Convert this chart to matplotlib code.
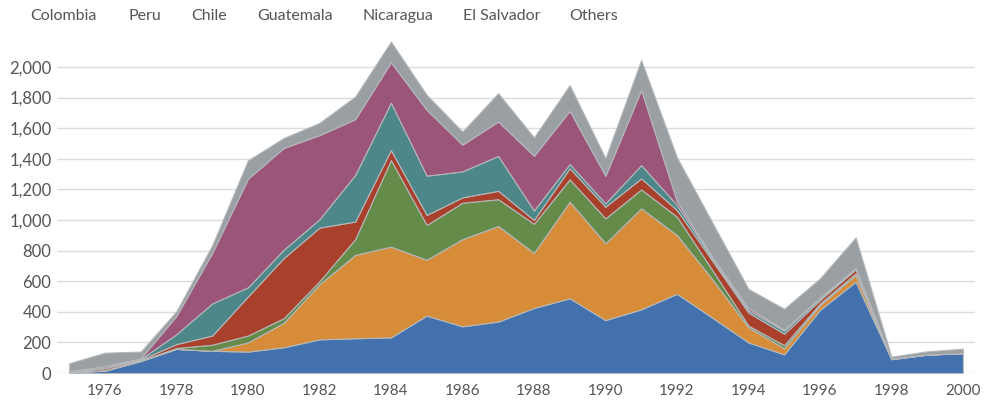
import numpy as np
import matplotlib.pyplot as plt

# years and values per country (stacked, bottom to top)
years = list(range(1975, 2001))
countries = ['Colombia', 'Peru', 'Chile', 'Guatemala', 'Nicaragua', 'El Salvador', 'Others']

colombia = [5, 15, 78, 158, 145, 140, 168, 220, 227, 233, 375, 305, 336, 425, 488, 346, 416, 518, 360, 200, 122, 412, 597, 90, 120, 129]
peru = [0, 2, 2, 0, 0, 60, 160, 360, 545, 593, 365, 570, 625, 360, 632, 502, 660, 384, 250, 98, 40, 32, 43, 2, 1, 1]
chile = [0, 2, 2, 6, 40, 45, 30, 20, 103, 566, 228, 238, 175, 190, 146, 163, 124, 120, 60, 12, 20, 10, 12, 1, 0, 0]
guatemala = [3, 12, 6, 25, 60, 255, 393, 350, 115, 65, 65, 35, 55, 25, 72, 76, 72, 43, 60, 85, 75, 22, 26, 1, 0, 0]
nicaragua = [1, 4, 3, 65, 210, 60, 55, 55, 305, 310, 257, 170, 228, 62, 28, 22, 87, 33, 15, 15, 20, 12, 6, 0, 0, 0]
el_salvador = [3, 10, 5, 120, 330, 710, 665, 550, 364, 264, 430, 175, 225, 358, 348, 180, 491, 25, 10, 15, 6, 5, 2, 0, 0, 0]
others = [52, 88, 44, 30, 50, 120, 65, 80, 148, 135, 98, 85, 185, 120, 168, 115, 196, 287, 225, 125, 137, 125, 200, 13, 21, 29]

colors = ['#4271AE', '#D68C38', '#658B4B', '#A8402B', '#4E878A', '#9B5579', '#999FA3']

plt.rcParams['font.family'] = ['Lato', 'DejaVu Sans']

fig = plt.figure(figsize=(9.92, 4.01), dpi=100)
ax = fig.add_axes([0.0575, 0.0698, 0.9254, 0.8394])

ax.stackplot(years, colombia, peru, chile, guatemala, nicaragua, el_salvador, others,
             colors=colors, edgecolor='#b5b8ba', linewidth=0.8, zorder=3)

ax.set_xlim(1974.66, 2000.34)
ax.set_ylim(0, 2200)
ax.set_yticks(np.arange(0, 2001, 200))
ax.set_yticklabels([f'{v:,}' for v in range(0, 2001, 200)])
ax.set_xticks(np.arange(1976, 2001, 2))
ax.grid(axis='y', color='#dcdcdc', linewidth=1, zorder=0)
ax.tick_params(axis='x', length=0, labelsize=11, colors='#555555', pad=8)
ax.tick_params(axis='y', length=0, labelsize=12, colors='#555555', pad=4)
for s in ax.spines.values():
    s.set_visible(False)

# text-only legend along the top
legend_x = [30, 129, 191, 257, 362, 463, 569]
for name, x in zip(countries, legend_x):
    fig.text(x / 992, 1 - 16 / 401, name, fontsize=11.5, color='#555555',
             ha='left', va='center')

fig.savefig('out.png', dpi=100)
